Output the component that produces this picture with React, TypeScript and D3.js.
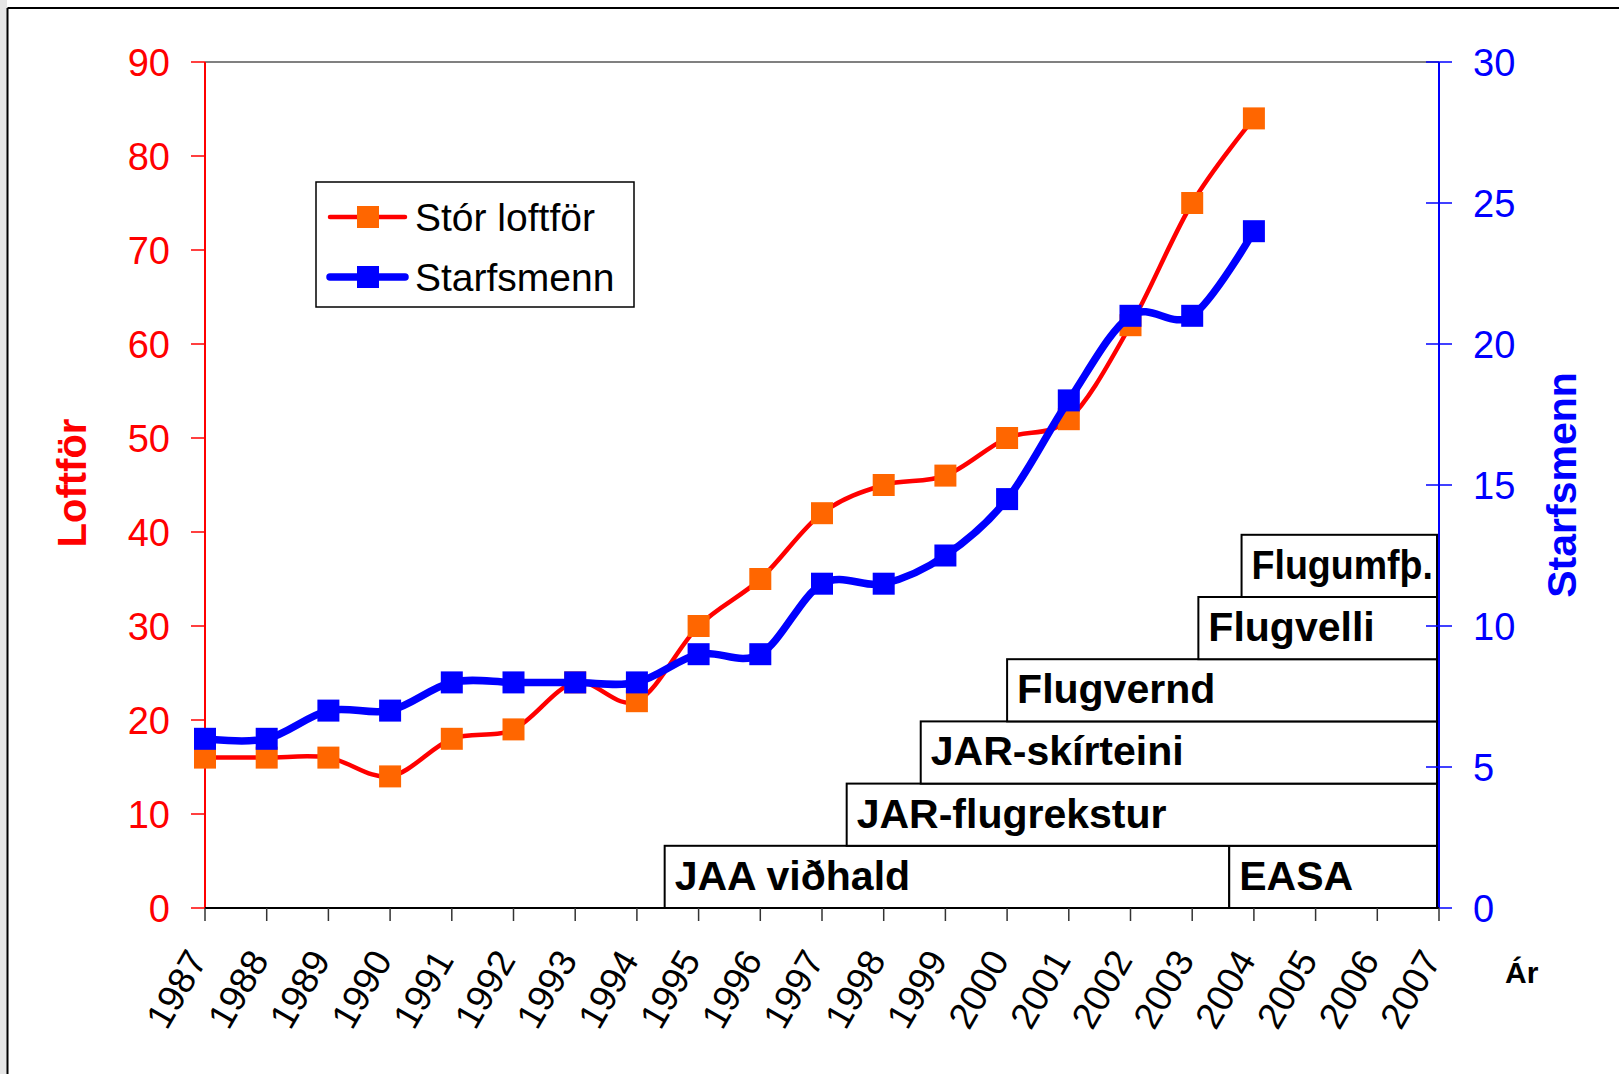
import React from "react";
import * as d3 from "d3";

// data
const years = [1987, 1988, 1989, 1990, 1991, 1992, 1993, 1994, 1995, 1996, 1997, 1998, 1999, 2000, 2001, 2002, 2003, 2004];
const aircraft = [16, 16, 16, 14, 18, 19, 24, 22, 30, 35, 42, 45, 46, 50, 52, 62, 75, 84];
const staff = [6, 6, 7, 7, 8, 8, 8, 8, 9, 9, 11.5, 11.5, 12.5, 14.5, 18, 21, 21, 24];

const xTickYears = d3.range(1987, 2008);
const leftTicks = [0, 10, 20, 30, 40, 50, 60, 70, 80, 90];
const rightTicks = [0, 5, 10, 15, 20, 25, 30];

// regulation boxes: label, start year, row (0 = bottom)
const regLabels = ["JAA viðhald", "EASA", "JAR-flugrekstur", "JAR-skírteini", "Flugvernd", "Flugvelli", "Flugumfþ."];
const regStart = [1994.45, 2003.6, 1997.4, 1998.6, 2000, 2003.1, 2003.8];
const regEnd = [2003.6, 2007, 2007, 2007, 2007, 2007, 2007];
const regRow = [0, 0, 1, 2, 3, 4, 5];

const W = 1619;
const H = 1074;
const M = { left: 205, right: 1439, top: 62, bottom: 908 };
const FONT = "'Liberation Sans', Arial, sans-serif";

export default function App() {
  const x = d3.scaleLinear().domain([1987, 2007]).range([M.left, M.right]);
  const yL = d3.scaleLinear().domain([0, 90]).range([M.bottom, M.top]);
  const yR = d3.scaleLinear().domain([0, 30]).range([M.bottom, M.top]);

  const redLine = d3
    .line<number>()
    .x((d, i) => x(years[i]))
    .y((d) => yL(d))
    .curve(d3.curveCardinal)(aircraft);
  const blueLine = d3
    .line<number>()
    .x((d, i) => x(years[i]))
    .y((d) => yR(d))
    .curve(d3.curveCardinal)(staff);

  const rowH = 62.2;
  const ms = 22;

  return (
    <svg
      width={W}
      height={H}
      style={{ position: "absolute", left: 0, top: 0, background: "#fff" }}
      fontFamily={FONT}
    >
      {/* page frame */}
      <rect x={0} y={0} width={7} height={H} fill="#e6e6e6" />
      <line x1={7.5} y1={8} x2={W} y2={8} stroke="#000" strokeWidth={2} />
      <line x1={7.5} y1={8} x2={7.5} y2={H} stroke="#000" strokeWidth={2} />

      {/* plot top border */}
      <line x1={M.left} y1={M.top} x2={M.right} y2={M.top} stroke="#808080" strokeWidth={2} />

      {/* regulation boxes */}
      {regLabels.map((lab, i) => {
        const x0 = x(regStart[i]);
        const x1 = Math.min(x(regEnd[i]), M.right - 2);
        const y1 = M.bottom - regRow[i] * rowH;
        const y0 = y1 - rowH;
        const bw = x1 - x0;
        return (
          <g key={lab}>
            <rect x={x0} y={y0} width={bw} height={rowH} fill="#fff" stroke="#000" strokeWidth={2} />
            <text
              x={x0 + 10}
              y={y0 + 44}
              fontSize={41}
              fontWeight="bold"
              fill="#000"
              textLength={bw < 220 && lab.length > 5 ? bw - 14 : undefined}
              lengthAdjust="spacingAndGlyphs"
            >
              {lab}
            </text>
          </g>
        );
      })}

      {/* left axis */}
      <line x1={M.left} y1={M.top} x2={M.left} y2={M.bottom} stroke="#ff0000" strokeWidth={2} />
      {leftTicks.map((t) => (
        <g key={"l" + t}>
          <line x1={M.left - 14} x2={M.left} y1={yL(t)} y2={yL(t)} stroke="#ff0000" strokeWidth={1.5} />
          <text x={170} y={yL(t)} dy="0.36em" textAnchor="end" fontSize={38} fill="#ff0000">
            {t}
          </text>
        </g>
      ))}
      <text
        transform={`translate(72,483) rotate(-90)`}
        textAnchor="middle"
        dy="0.36em"
        fontSize={40}
        fontWeight="bold"
        fill="#ff0000"
      >
        Loftför
      </text>

      {/* right axis */}
      <line x1={M.right} y1={M.top} x2={M.right} y2={M.bottom} stroke="#0000ff" strokeWidth={2} />
      {rightTicks.map((t) => (
        <g key={"r" + t}>
          <line x1={M.right - 13} x2={M.right + 13} y1={yR(t)} y2={yR(t)} stroke="#0000ff" strokeWidth={1.5} />
          <text x={1473} y={yR(t)} dy="0.36em" textAnchor="start" fontSize={38} fill="#0000ff">
            {t}
          </text>
        </g>
      ))}
      <text
        transform={`translate(1561,485) rotate(-90)`}
        textAnchor="middle"
        dy="0.36em"
        fontSize={41}
        fontWeight="bold"
        fill="#0000ff"
      >
        Starfsmenn
      </text>

      {/* x axis */}
      <line x1={M.left} y1={M.bottom} x2={M.right} y2={M.bottom} stroke="#000" strokeWidth={2} />
      {xTickYears.map((yr) => (
        <g key={"x" + yr}>
          <line x1={x(yr)} x2={x(yr)} y1={M.bottom} y2={M.bottom + 13} stroke="#333" strokeWidth={1.5} />
          <text
            transform={`translate(${x(yr) + 3},960) rotate(-60)`}
            textAnchor="end"
            fontSize={37}
            fill="#000"
          >
            {yr}
          </text>
        </g>
      ))}
      <text x={1505} y={983} fontSize={30} fontWeight="bold" fill="#000">
        Ár
      </text>

      {/* series */}
      <path d={redLine ?? ""} fill="none" stroke="#ff0000" strokeWidth={4.5} />
      {aircraft.map((v, i) => (
        <rect key={"a" + i} x={x(years[i]) - ms / 2} y={yL(v) - ms / 2} width={ms} height={ms} fill="#ff6600" />
      ))}
      <path d={blueLine ?? ""} fill="none" stroke="#0000ff" strokeWidth={7.5} />
      {staff.map((v, i) => (
        <rect key={"s" + i} x={x(years[i]) - ms / 2} y={yR(v) - ms / 2} width={ms} height={ms} fill="#0000ff" />
      ))}

      {/* legend */}
      <rect x={316} y={182} width={318} height={125} fill="#fff" stroke="#000" strokeWidth={1.5} />
      <line x1={330} x2={405} y1={217} y2={217} stroke="#ff0000" strokeWidth={4.5} strokeLinecap="round" />
      <rect x={368 - ms / 2} y={217 - ms / 2} width={ms} height={ms} fill="#ff6600" />
      <text x={415} y={231} fontSize={39} fill="#000">
        Stór loftför
      </text>
      <line x1={330} x2={405} y1={277} y2={277} stroke="#0000ff" strokeWidth={7.5} strokeLinecap="round" />
      <rect x={368 - ms / 2} y={277 - ms / 2} width={ms} height={ms} fill="#0000ff" />
      <text x={415} y={291} fontSize={39} fill="#000">
        Starfsmenn
      </text>
    </svg>
  );
}
